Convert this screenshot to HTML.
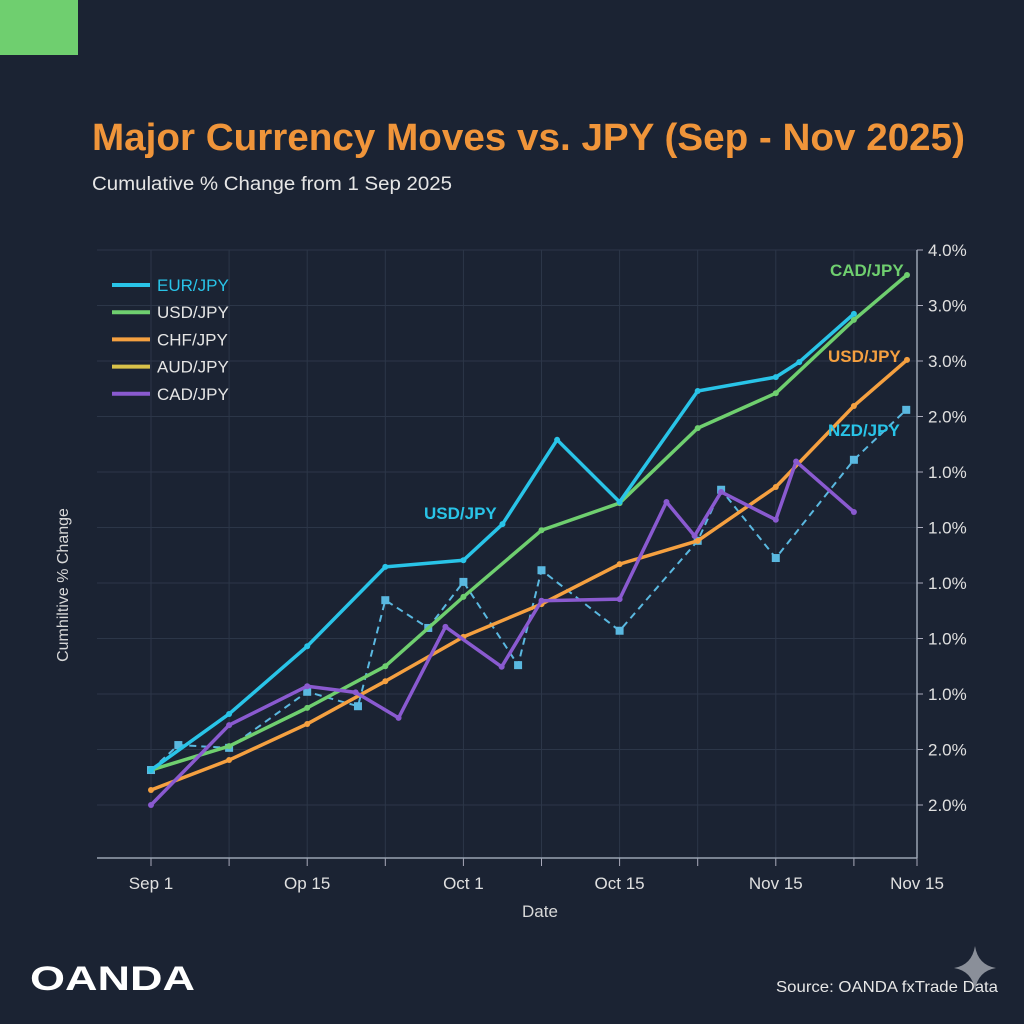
<!DOCTYPE html>
<html><head><meta charset="utf-8"><style>
body{margin:0;background:#1b2333;}
svg{display:block;font-family:"Liberation Sans",sans-serif;}
</style></head><body>
<svg id="chart" width="1024" height="1024" viewBox="0 0 1024 1024">
<rect width="1024" height="1024" fill="#1b2333"/>
<rect x="0" y="0" width="78" height="55" fill="#6fcf6f"/>
<text x="92" y="150" fill="#f0953a" font-size="38" font-weight="bold" textLength="873" lengthAdjust="spacingAndGlyphs">Major Currency Moves vs. JPY (Sep - Nov 2025)</text>
<text x="92" y="190" fill="#e6e6e6" font-size="19" textLength="360" lengthAdjust="spacingAndGlyphs">Cumulative % Change from 1 Sep 2025</text>
<g id="grid"></g>
<g id="series"></g>
<g id="legend"></g>
<text x="68" y="585" fill="#d8d8d8" font-size="16" text-anchor="middle" transform="rotate(-90 68 585)">Cumhiltive % Change</text>
<text x="540" y="917" fill="#d8d8d8" font-size="17" text-anchor="middle">Date</text>
<text x="30" y="990" fill="#ffffff" font-size="34" font-weight="bold" textLength="165" lengthAdjust="spacingAndGlyphs">OANDA</text>
<text x="998" y="992" fill="#e6e6e6" font-size="16" text-anchor="end" textLength="222" lengthAdjust="spacingAndGlyphs">Source: OANDA fxTrade Data</text>
<path d="M975 946 Q978 965 996 968 Q978 971 975 990 Q972 971 954 968 Q972 965 975 946Z" fill="#8a8f99"/>
</svg>
<script>
const yTickLabels=["2.0%","2.0%","1.0%","1.0%","1.0%","1.0%","1.0%","2.0%","3.0%","3.0%","4.0%"];
const xTickLabels=["Sep 1","","Op 15","","Oct 1","","Oct 15","","Nov 15","","Nov 15"];
const eurX=[0,1,2,3,4,4.5,5.2,6,7,8,8.3,9];
const eurY=[0.63,1.64,2.86,4.29,4.41,5.06,6.58,5.46,7.46,7.71,7.98,8.85];
const usdX=[0,1,2,3,4,5,6,7,8,9,9.68];
const usdY=[0.63,1.06,1.75,2.5,3.75,4.95,5.44,6.79,7.42,8.74,9.55];
const chfX=[0,1,2,3,4,5,6,7,8,9,9.68];
const chfY=[0.27,0.81,1.46,2.23,3.03,3.62,4.34,4.76,5.73,7.19,8.02];
const cadX=[0,1,2,2.62,3.17,3.77,4.49,5,6,6.6,6.96,7.3,8,8.26,9];
const cadY=[0,1.44,2.14,2.03,1.57,3.21,2.49,3.68,3.71,5.46,4.85,5.64,5.14,6.19,5.28];
const nzdX=[0,0.35,1,2,2.65,3,3.55,4,4.7,5,6,7,7.3,8,9,9.67];
const nzdY=[0.63,1.08,1.03,2.04,1.78,3.69,3.19,4.02,2.52,4.23,3.14,4.76,5.68,4.45,6.22,7.12];
const NS='http://www.w3.org/2000/svg';
const xs=i=>Math.min(151+i*78.1,917);
const ys=v=>805-v*55.5;
function mk(t,a,p){const e=document.createElementNS(NS,t);for(const k in a)e.setAttribute(k,a[k]);p.appendChild(e);return e;}
const grid=document.getElementById('grid');
for(let k=0;k<yTickLabels.length;k++){
 const y=ys(k);
 const gl=mk('line',{x1:97,x2:917,y1:y,y2:y,stroke:'#2c3648','stroke-width':1},grid);
 
 
 mk('line',{x1:917,x2:923,y1:y,y2:y,stroke:'#aab','stroke-width':1},grid);
 const t=mk('text',{x:928,y:y+6,fill:'#e0e0e0','font-size':17},grid);t.textContent=yTickLabels[k];
 
 
}
for(let i=0;i<xTickLabels.length;i++){
 const x=xs(i);
 if(i<10){const gl=mk('line',{x1:x,x2:x,y1:250,y2:858,stroke:'#2c3648','stroke-width':1},grid);
 
 }
 mk('line',{x1:x,x2:x,y1:858,y2:866,stroke:'#aab','stroke-width':1},grid);
 if(xTickLabels[i]){const t=mk('text',{x:x,y:889,fill:'#e0e0e0','font-size':17,'text-anchor':'middle'},grid);t.textContent=xTickLabels[i];
 
 }
}
mk('line',{x1:97,x2:917,y1:858,y2:858,stroke:'#9aa3b2','stroke-width':1.5},grid);
mk('line',{x1:917,x2:917,y1:250,y2:858,stroke:'#9aa3b2','stroke-width':1.5},grid);
const ser=document.getElementById('series');
function draw(X,Y,color,name,dash,sq){
 const d=X.map((x,i)=>(i?'L':'M')+xs(x)+' '+ys(Y[i])).join(' ');
 const p=mk('path',{d:d,fill:'none',stroke:color,'stroke-width':dash?2:3.5,'stroke-linejoin':'round','stroke-dasharray':dash?'7 5':'none'},ser);
 
 
 X.forEach((x,i)=>{
  const m=sq?mk('rect',{x:xs(x)-4,y:ys(Y[i])-4,width:8,height:8,fill:color},ser):mk('circle',{cx:xs(x),cy:ys(Y[i]),r:3,fill:color},ser);
  
  
 });
}
draw(nzdX,nzdY,'#5ab8e0','nzd-jpy',true,true);
draw(chfX,chfY,'#f5a040','chf-jpy');
draw(usdX,usdY,'#6fcf6f','usd-jpy');
draw(eurX,eurY,'#29c4e8','eur-jpy');
draw(cadX,cadY,'#8a5ad0','cad-jpy');
function lbl(x,y,t,c,n){const e=mk('text',{x:x,y:y,fill:c,'font-size':17,'font-weight':'bold'},ser);e.textContent=t;
 
 }
lbl(830,276,'CAD/JPY','#6fcf6f','cad-jpy-label');
lbl(828,362,'USD/JPY','#f5a040','usd-jpy-end-label');
lbl(828,436,'NZD/JPY','#29c4e8','nzd-jpy-label');
lbl(424,519,'USD/JPY','#29c4e8','usd-jpy-mid-label');
const leg=document.getElementById('legend');
const legNames=['EUR/JPY','USD/JPY','CHF/JPY','AUD/JPY','CAD/JPY'];
const legColors=['#29c4e8','#6fcf6f','#f5a040','#d9c24a','#8a5ad0'];
const legText=['#29c4e8','#e6e6e6','#e6e6e6','#e6e6e6','#e6e6e6'];
legNames.forEach((n,k)=>{
 const y=285+k*27.2;
 const l=mk('line',{x1:112,x2:150,y1:y,y2:y,stroke:legColors[k],'stroke-width':4},leg);
 
 
 const t=mk('text',{x:157,y:y+6,fill:legText[k],'font-size':17},leg);t.textContent=n;
 
 
});
</script>
</body></html>
